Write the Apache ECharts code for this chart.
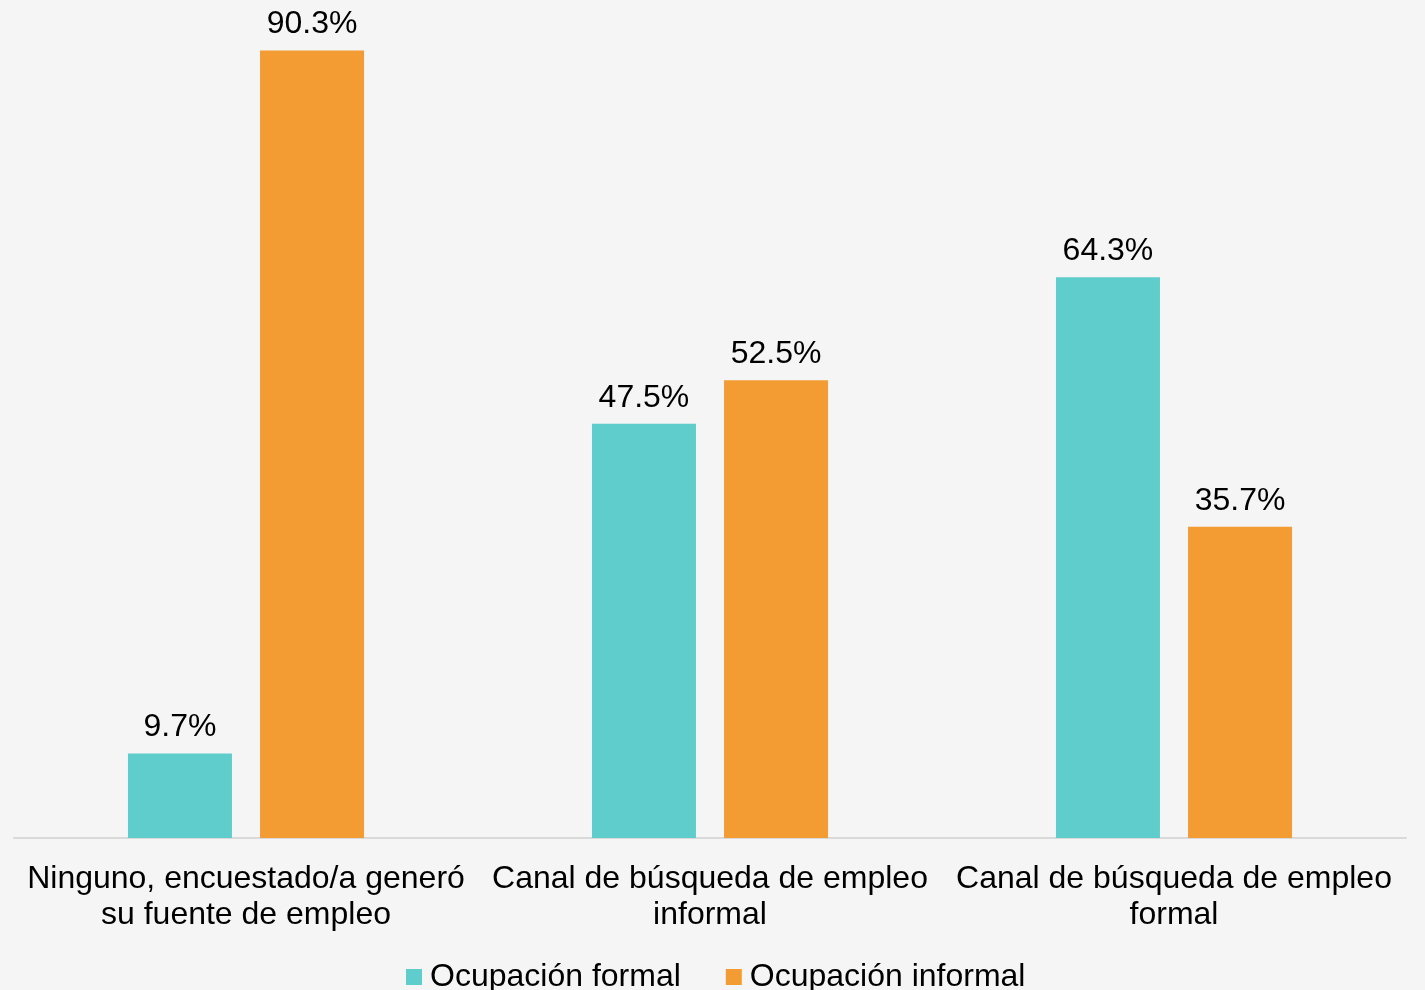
<!DOCTYPE html>
<html><head><meta charset="utf-8">
<script src="https://cdn.jsdelivr.net/npm/echarts@6/dist/echarts.min.js"></script>
<style>html,body{margin:0;padding:0;background:#f5f5f5;}#c{width:1425px;height:990px;}</style>
</head><body><div id="c"></div>
<script>
const categories = ['Ninguno, encuestado/a generó\nsu fuente de empleo', 'Canal de búsqueda de empleo\ninformal', 'Canal de búsqueda de empleo\nformal'];
const seriesNames = ['Ocupación formal', 'Ocupación informal'];
const formal = [9.7, 47.5, 64.3];
const informal = [90.3, 52.5, 35.7];
const colors = ['#5ECDCB', '#F29C33'];
const FONT = 'Liberation Sans, Arial, sans-serif';
const chart = echarts.init(document.getElementById('c'));
const label = {show: true, position: 'top', distance: 10, formatter: p => p.value.toFixed(1) + '%', color: '#000', fontSize: 32, fontFamily: FONT};
chart.setOption({
  backgroundColor: '#f5f5f5',
  animation: false,
  grid: {left: 14, right: 19, top: 0, bottom: 152, containLabel: false},
  legend: {top: 956, left: 401, itemWidth: 16, itemHeight: 16, itemGap: 45, icon: 'rect',
    textStyle: {fontSize: 32, fontFamily: FONT, color: '#000', padding: [0,0,0,3]}, data: seriesNames},
  xAxis: {type: 'category', data: categories,
    axisLine: {lineStyle: {color: '#d9d9d9', width: 2}}, axisTick: {show: false},
    axisLabel: {fontSize: 32, fontFamily: FONT, color: '#000', lineHeight: 36, margin: 23, interval: 0}},
  yAxis: {type: 'value', min: 0, max: 96.1, show: false, splitLine: {show: false}},
  series: [
    {name: seriesNames[0], type: 'bar', data: formal, barWidth: 104, barGap: '27%', itemStyle: {color: colors[0]}, label},
    {name: seriesNames[1], type: 'bar', data: informal, barWidth: 104, barGap: '27%', itemStyle: {color: colors[1]}, label}
  ]
});
</script></body></html>
